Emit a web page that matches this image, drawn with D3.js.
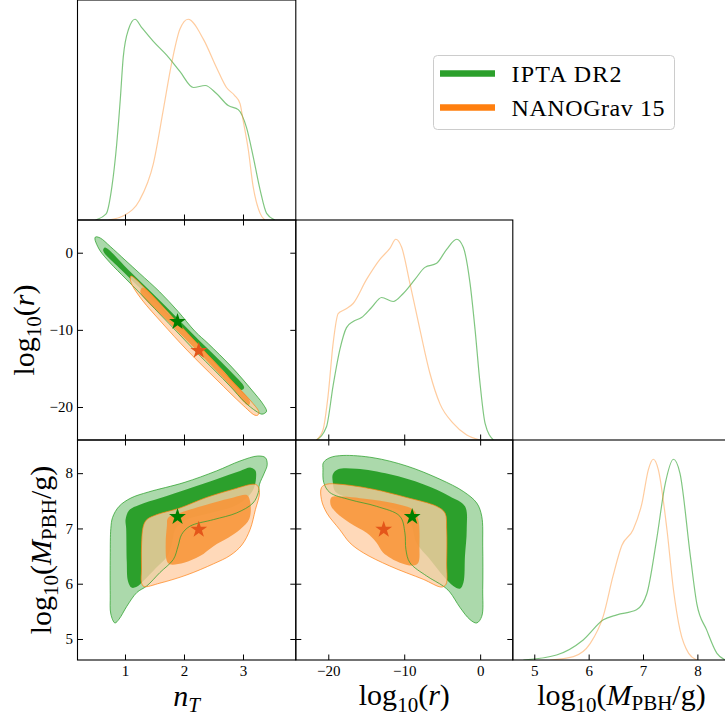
<!DOCTYPE html>
<html><head><meta charset="utf-8">
<script src="https://cdn.jsdelivr.net/npm/d3@7"></script>
<style>html,body{margin:0;padding:0;background:#fff;} svg{display:block;}</style>
</head><body>
<svg id="c" width="725" height="719"></svg>
<script>
// ---------------- data ----------------
const seriesNames = ["IPTA DR2", "NANOGrav 15"];
const ticksNT = [1, 2, 3];
const ticksR = [-20, -10, 0];
const ticksM = [5, 6, 7, 8];
// best-fit points [IPTA, NANOGrav]
const bestNT = [1.89, 2.25];
const bestLogR = [-8.95, -12.7];
const bestLogM = [7.21, 6.98];

// 1D marginals (normalised density)
const greenNT = [[0.5,0],[0.68,0.03],[0.78,0.17],[0.86,0.38],[0.92,0.60],[0.97,0.81],[1.06,0.95],[1.17,1.0],[1.28,0.96],[1.48,0.89],[1.71,0.82],[1.93,0.74],[2.16,0.66],[2.36,0.67],[2.55,0.63],[2.75,0.57],[2.92,0.55],[3.06,0.46],[3.17,0.32],[3.29,0.15],[3.40,0.033],[3.54,0]];
const orangeNT = [[0.72,0],[1.0,0.025],[1.25,0.10],[1.48,0.28],[1.65,0.55],[1.79,0.78],[1.93,0.95],[2.07,1.0],[2.33,0.90],[2.55,0.76],[2.72,0.66],[2.86,0.62],[2.95,0.58],[3.0,0.50],[3.09,0.35],[3.17,0.17],[3.29,0.033],[3.37,0]];
const greenR = [[-21.56,0],[-20.24,0.066],[-19.37,0.27],[-18.48,0.45],[-17.6,0.56],[-16.73,0.59],[-15.62,0.61],[-14.3,0.66],[-12.98,0.71],[-11.45,0.69],[-10.13,0.73],[-8.59,0.80],[-7.27,0.86],[-5.73,0.88],[-4.41,0.95],[-3.09,1.0],[-2.22,0.96],[-1.33,0.78],[-0.67,0.55],[-0.01,0.28],[0.65,0.083],[1.74,0]];
const orangeR = [[-21.56,0],[-20.7,0.05],[-20.03,0.22],[-19.37,0.48],[-18.7,0.63],[-17.82,0.65],[-16.73,0.68],[-14.96,0.80],[-13.2,0.90],[-11.89,0.955],[-11.1,1.0],[-10.34,0.96],[-9.25,0.78],[-7.93,0.55],[-6.6,0.33],[-5.29,0.18],[-3.54,0.083],[-1.77,0.025],[-0.01,0]];
const greenM = [[4.80,0],[5.41,0.025],[5.90,0.10],[6.27,0.20],[6.52,0.225],[6.88,0.25],[7.07,0.33],[7.25,0.60],[7.41,0.88],[7.56,1.0],[7.68,0.93],[7.87,0.52],[7.99,0.28],[8.17,0.15],[8.36,0.033],[8.51,0]];
const orangeM = [[5.29,0],[5.72,0.017],[6.03,0.083],[6.27,0.22],[6.45,0.42],[6.61,0.57],[6.82,0.65],[6.98,0.78],[7.10,0.95],[7.19,1.0],[7.28,0.95],[7.44,0.65],[7.56,0.35],[7.68,0.15],[7.84,0.033],[7.99,0]];

// 2D contours: n_T vs log10(r)
const greenOuterNR = [[0.50,2.04],[0.58,1.91],[0.75,0.81],[1.00,-0.94],[1.25,-2.69],[1.59,-5.09],[1.90,-7.62],[2.19,-10.22],[2.41,-11.78],[2.81,-14.83],[3.15,-17.81],[3.34,-19.63],[3.40,-20.54],[3.37,-20.80],[3.32,-20.93],[3.22,-20.54],[3.03,-19.37],[2.78,-17.29],[2.53,-15.34],[2.19,-12.74],[1.90,-10.41],[1.59,-7.95],[1.25,-5.22],[1.00,-3.28],[0.75,-1.33],[0.58,0.23],[0.51,1.27],[0.49,1.78]];
const greenInnerNR = [[0.66,0.68],[1.06,-2.24],[1.65,-6.65],[2.25,-11.32],[2.75,-15.08],[3.02,-17.49],[2.97,-17.81],[2.64,-15.08],[2.13,-11.32],[1.53,-6.65],[0.94,-2.24],[0.63,0.29]];
const orangeOuterNR = [[1.10,-3.02],[1.42,-5.22],[1.93,-9.38],[2.44,-13.53],[2.86,-17.04],[3.15,-19.37],[3.27,-20.67],[3.25,-21.06],[3.20,-21.06],[2.98,-19.63],[2.56,-16.51],[2.05,-12.62],[1.63,-9.12],[1.29,-6.13],[1.12,-4.18],[1.09,-3.40]];
const orangeInnerNR = [[1.30,-4.50],[1.80,-8.40],[2.32,-12.55],[2.81,-16.55],[3.12,-19.37],[3.09,-19.76],[2.74,-16.90],[2.24,-12.88],[1.72,-8.86],[1.26,-5.09]];

// 2D contours: n_T vs log10(M)
const greenOuterNM = [[0.83,5.29],[0.76,5.45],[0.75,5.8],[0.75,6.5],[0.76,7.0],[0.79,7.2],[0.9,7.4],[1.1,7.55],[1.4,7.66],[2.0,7.83],[2.55,8.04],[2.95,8.22],[3.25,8.31],[3.38,8.28],[3.41,8.15],[3.36,8.0],[3.28,7.8],[3.26,7.65],[3.17,7.46],[2.89,7.28],[2.5,7.16],[2.1,7.04],[1.96,6.89],[1.9,6.68],[1.82,6.44],[1.59,6.2],[1.37,5.96],[1.2,5.84],[1.03,5.59],[0.9,5.36]];
const greenInnerNM = [[1.11,5.93],[1.05,6.05],[1.03,6.4],[1.02,7.0],[1.01,7.16],[1.07,7.33],[1.25,7.43],[1.6,7.55],[2.05,7.71],[2.55,7.89],[2.95,8.04],[3.13,8.10],[3.21,8.05],[3.22,7.9],[3.18,7.72],[3.08,7.57],[2.85,7.40],[2.45,7.28],[2.05,7.16],[1.86,7.0],[1.8,6.75],[1.72,6.5],[1.52,6.28],[1.32,6.06],[1.19,5.94]];
const orangeOuterNM = [[1.31,7.04],[1.28,6.68],[1.28,6.26],[1.28,6.02],[1.32,5.95],[1.59,6.01],[2.05,6.16],[2.5,6.36],[2.78,6.51],[2.98,6.70],[3.12,6.98],[3.21,7.34],[3.28,7.65],[3.24,7.78],[3.17,7.80],[2.84,7.71],[2.38,7.56],[1.93,7.37],[1.54,7.25],[1.37,7.16]];
const orangeInnerNM = [[1.71,7.04],[1.69,6.74],[1.71,6.41],[1.76,6.35],[2.0,6.38],[2.27,6.5],[2.5,6.68],[2.75,6.83],[2.95,6.98],[3.11,7.18],[3.12,7.49],[3.07,7.6],[2.84,7.56],[2.38,7.43],[1.93,7.28],[1.73,7.19]];

// 2D contours: log10(r) vs log10(M)
const greenOuterRM = [[-20.65,8.19],[-19.8,8.28],[-18.05,8.32],[-14.1,8.28],[-9.68,8.13],[-5.29,7.89],[-2.22,7.67],[-0.45,7.46],[0.21,7.22],[0.34,6.68],[0.34,5.9],[0.21,5.41],[-0.45,5.29],[-1.33,5.35],[-2.65,5.57],[-4.0,5.85],[-4.9,5.96],[-7.05,6.14],[-9.25,6.38],[-9.78,6.62],[-9.91,6.92],[-10.57,7.22],[-13.64,7.40],[-17.16,7.52],[-19.8,7.65],[-20.6,7.83],[-20.7,8.07]];
const greenInnerRM = [[-19.4,7.98],[-18.7,8.07],[-16.3,8.08],[-11.9,7.98],[-7.5,7.80],[-3.97,7.58],[-2.0,7.40],[-1.77,6.98],[-2.0,6.5],[-2.2,6.02],[-2.65,5.91],[-3.54,5.96],[-4.85,6.14],[-6.6,6.44],[-8.4,6.74],[-9.0,7.04],[-10.1,7.28],[-13.2,7.43],[-17.2,7.55],[-19.1,7.67],[-19.4,7.83]];
const orangeOuterRM = [[-20.9,7.74],[-20.2,7.80],[-18.5,7.80],[-14.1,7.71],[-9.68,7.56],[-5.73,7.40],[-4.63,7.28],[-4.41,6.98],[-4.41,6.38],[-4.5,5.99],[-5.07,5.94],[-7.5,6.08],[-11.9,6.32],[-15.4,6.56],[-17.16,6.74],[-18.5,6.98],[-20.2,7.28],[-20.9,7.52]];
const orangeInnerRM = [[-19.6,7.56],[-18.5,7.58],[-14.1,7.52],[-10.57,7.43],[-8.8,7.34],[-8.15,7.16],[-8.0,6.68],[-8.15,6.38],[-8.8,6.33],[-10.57,6.38],[-12.77,6.56],[-13.64,6.74],[-14.96,6.92],[-17.16,7.10],[-18.9,7.28],[-19.7,7.43]];

// ---------------- layout / style ----------------
const FONT = "'Liberation Serif','DejaVu Serif',serif";
const GREEN = "#2ca02c", ORANGE = "#ff7f0e";
const svg = d3.select("#c");
const colX = [77.5, 295.8, 512.8, 730];
const rowY = [0, 220, 440, 660];

const xNT = d3.scaleLinear([0.195, 3.895], [colX[0], colX[1]]);
const xR  = d3.scaleLinear([-24.28, 4.3], [colX[1], colX[2]]);
const xM  = d3.scaleLinear([4.605, 8.6], [colX[2], colX[3]]);
const yR  = d3.scaleLinear([-24.28, 4.24], [rowY[2], rowY[1]]);
const yM  = d3.scaleLinear([4.62, 8.6], [rowY[3], rowY[2]]);
const yD  = r => d3.scaleLinear([0, 1.096], [rowY[r+1], rowY[r]]);

const defs = svg.append("defs");
function panel(c, r) {
  const id = `clip${c}${r}`;
  defs.append("clipPath").attr("id", id).append("rect")
    .attr("x", colX[c]).attr("y", rowY[r])
    .attr("width", colX[c+1]-colX[c]).attr("height", rowY[r+1]-rowY[r]);
  return svg.append("g").attr("clip-path", `url(#${id})`);
}
function spine(c, r) {
  svg.append("rect").attr("x", colX[c]).attr("y", rowY[r])
    .attr("width", colX[c+1]-colX[c]).attr("height", rowY[r+1]-rowY[r])
    .attr("fill", "none").attr("stroke", "#000").attr("stroke-width", 1.1);
}
function addAxis(gen, tx, ty, labels) {
  const a = svg.append("g").attr("transform", `translate(${tx},${ty})`).call(gen);
  a.select(".domain").remove();
  a.selectAll("line").attr("stroke", "#000").attr("stroke-width", 1);
  a.selectAll("text").attr("fill", "#000")
    .style("font-family", FONT).style("font-size", "15px");
  if (!labels) a.selectAll("text").remove();
}
const TK = -5.5;
const fmt = d3.format("d");

function marginal(c, r, xs, gData, oData) {
  const g = panel(c, r);
  const ys = yD(r);
  const line = d3.line().x(d => xs(d[0])).y(d => ys(d[1])).curve(d3.curveMonotoneX);
  g.append("path").attr("d", line(gData)).attr("fill", "none")
    .attr("stroke", GREEN).attr("stroke-opacity", 0.6).attr("stroke-width", 1.2);
  g.append("path").attr("d", line(oData)).attr("fill", "none")
    .attr("stroke", ORANGE).attr("stroke-opacity", 0.4).attr("stroke-width", 1.2);
}

function contours(c, r, xs, ys, gO, gI, oO, oI, bx, by) {
  const g = panel(c, r);
  const area = d3.line().x(d => xs(d[0])).y(d => ys(d[1])).curve(d3.curveCatmullRomClosed.alpha(0.5));
  g.append("path").attr("d", area(gO)).attr("fill", "rgb(171,217,171)");
  g.append("path").attr("d", area(gI)).attr("fill", GREEN);
  g.append("path").attr("d", area(oO)).attr("fill", "rgb(255,208,168)").attr("fill-opacity", 0.8);
  g.append("path").attr("d", area(oI)).attr("fill", "rgb(248,148,55)").attr("fill-opacity", 0.88);
  g.append("path").attr("d", area(gO)).attr("fill", "none").attr("stroke", GREEN).attr("stroke-opacity", 0.75).attr("stroke-width", 1);
  g.append("path").attr("d", area(oO)).attr("fill", "none").attr("stroke", ORANGE).attr("stroke-opacity", 0.7).attr("stroke-width", 1);
  const starCols = ["#008000", "#e4561a"];
  const star = d3.symbol(d3.symbolStar, 88);
  [0, 1].forEach(i => {
    svg.append("path").attr("d", star())
      .attr("transform", `translate(${xs(bx[i])},${ys(by[i])})`)
      .attr("fill", starCols[i]);
  });
}

// draw panels
marginal(0, 0, xNT, greenNT, orangeNT);
marginal(1, 1, xR, greenR, orangeR);
marginal(2, 2, xM, greenM, orangeM);
contours(0, 1, xNT, yR, greenOuterNR, greenInnerNR, orangeOuterNR, orangeInnerNR, bestNT, bestLogR);
contours(0, 2, xNT, yM, greenOuterNM, greenInnerNM, orangeOuterNM, orangeInnerNM, bestNT, bestLogM);
contours(1, 2, xR, yM, greenOuterRM, greenInnerRM, orangeOuterRM, orangeInnerRM, bestLogR, bestLogM);

// ticks
addAxis(d3.axisBottom(xNT).tickValues(ticksNT).tickSize(TK).tickFormat(fmt), 0, rowY[1], false);
addAxis(d3.axisBottom(xR).tickValues(ticksR).tickSize(TK).tickFormat(fmt), 0, rowY[2], false);
addAxis(d3.axisBottom(xM).tickValues(ticksM).tickSize(TK).tickFormat(fmt).tickPadding(5), 0, rowY[3], true);
addAxis(d3.axisTop(xNT).tickValues(ticksNT).tickSize(TK), 0, rowY[1], false);
addAxis(d3.axisBottom(xNT).tickValues(ticksNT).tickSize(TK), 0, rowY[2], false);
addAxis(d3.axisLeft(yR).tickValues(ticksR).tickSize(TK).tickFormat(fmt).tickPadding(4.5), colX[0], 0, true);
addAxis(d3.axisRight(yR).tickValues(ticksR).tickSize(TK), colX[1], 0, false);
addAxis(d3.axisTop(xNT).tickValues(ticksNT).tickSize(TK), 0, rowY[2], false);
addAxis(d3.axisBottom(xNT).tickValues(ticksNT).tickSize(TK).tickFormat(fmt).tickPadding(5), 0, rowY[3], true);
addAxis(d3.axisLeft(yM).tickValues(ticksM).tickSize(TK).tickFormat(fmt).tickPadding(4.5), colX[0], 0, true);
addAxis(d3.axisRight(yM).tickValues(ticksM).tickSize(TK), colX[1], 0, false);
addAxis(d3.axisTop(xR).tickValues(ticksR).tickSize(TK), 0, rowY[2], false);
addAxis(d3.axisBottom(xR).tickValues(ticksR).tickSize(TK).tickFormat(fmt).tickPadding(5), 0, rowY[3], true);
addAxis(d3.axisLeft(yM).tickValues(ticksM).tickSize(TK), colX[1], 0, false);
addAxis(d3.axisRight(yM).tickValues(ticksM).tickSize(TK), colX[2], 0, false);

// spines
[[0,0],[0,1],[1,1],[0,2],[1,2],[2,2]].forEach(([c, r]) => spine(c, r));

// axis labels
function logLabel(t, arg) {
  t.append("tspan").text("log");
  t.append("tspan").attr("font-size", "0.7em").attr("dy", 7).text("10");
  t.append("tspan").attr("dy", -7).text("(");
  arg(t);
  t.append("tspan").text(")");
}
const argR = t => t.append("tspan").attr("font-style", "italic").text("r");
const argM = t => {
  t.append("tspan").attr("font-style", "italic").text("M");
  t.append("tspan").attr("font-size", "0.7em").attr("dy", 5).text("PBH");
  t.append("tspan").attr("dy", -5).text("/g");
};
function mkText(x, y, rot) {
  return svg.append("text").style("font-family", FONT).attr("font-size", 30).attr("fill", "#000")
    .attr("text-anchor", "middle")
    .attr("transform", `translate(${x},${y})` + (rot ? " rotate(-90)" : ""));
}
{
  const t = mkText((colX[0]+colX[1])/2, 706, false);
  t.append("tspan").attr("font-style", "italic").text("n");
  t.append("tspan").attr("font-style", "italic").attr("font-size", "0.7em").attr("dy", 6).text("T");
}
logLabel(mkText((colX[1]+colX[2])/2, 705, false), argR);
logLabel(mkText((colX[2]+colX[3])/2, 705, false), argM);
logLabel(mkText(34, (rowY[1]+rowY[2])/2, true), argR);
logLabel(mkText(51, (rowY[2]+rowY[3])/2, true), argM);

// legend
const lg = svg.append("g");
lg.append("rect").attr("x", 433.5).attr("y", 55.5).attr("width", 241).attr("height", 74).attr("rx", 4)
  .attr("fill", "#fff").attr("fill-opacity", 0.8).attr("stroke", "#cccccc").attr("stroke-width", 1);
const legCols = [GREEN, ORANGE];
const legY = [73.5, 107.5];
const legW = [110, 153];
seriesNames.forEach((n, i) => {
  lg.append("line").attr("x1", 440).attr("x2", 495).attr("y1", legY[i]).attr("y2", legY[i])
    .attr("stroke", legCols[i]).attr("stroke-width", 6.7);
  lg.append("text").attr("x", 511.5).attr("y", legY[i] + 8.5)
    .style("font-family", FONT).attr("font-size", 24).attr("fill", "#000")
    .attr("textLength", legW[i]).attr("lengthAdjust", "spacing").text(n);
});
</script>
</body></html>
